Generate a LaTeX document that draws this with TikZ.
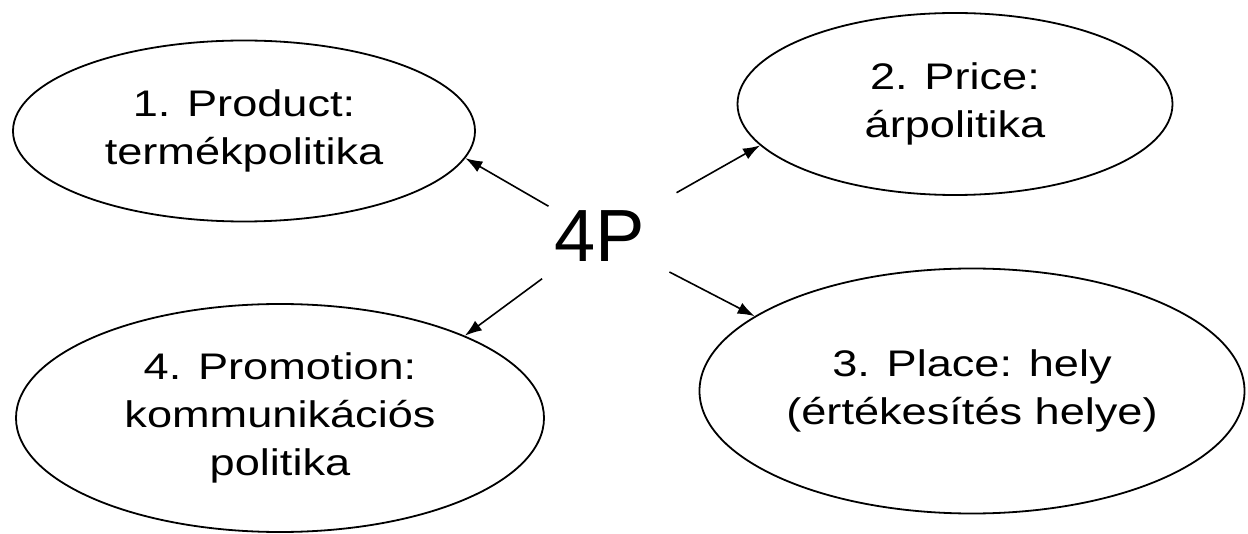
\documentclass[tikz,border=0pt]{standalone}
\usepackage{fontspec}
\setmainfont{Liberation Sans}
\newfontfamily\ovalfont[FakeStretch=1.22]{Liberation Sans}
\usepackage{xcolor}
\usepackage{tikz}
\usetikzlibrary{shapes,arrows.meta,positioning,calc}

\begin{document}
\begin{tikzpicture}[
    x=1pt, y=-1pt,
    oval/.style={ellipse, draw, line width=1.8pt, inner sep=0pt, align=center, text=black, font=\ovalfont\fontsize{37}{48}\selectfont},
    link/.style={-{Latex[length=17pt,width=12pt]}, line width=1.6pt}
]
    \useasboundingbox (0,0) rectangle (1248,534);
    \node[font=\fontsize{74}{74}\selectfont, inner sep=0pt, text=black] (hub) at (600,236) {4P};
    \node[oval, minimum width=462pt, minimum height=181pt] (product) at (244,131) {1. Product:\\termékpolitika};
    \node[oval, minimum width=435pt, minimum height=182pt] (price) at (955,104) {2. Price:\\árpolitika};
    \node[oval, minimum width=545pt, minimum height=245pt] (place) at (972,391) {3. Place: hely\\(értékesítés helye)};
    \node[oval, minimum width=528pt, minimum height=228pt] (promotion) at (280,418) {4. Promotion:\\kommunikációs\\politika};

    \draw[link] ($(product.353)!96pt!(hub)$) -- (product.353);
    \draw[link] ($(price.192)!96pt!(hub)$) -- (price.192);
    \draw[link] ($(place.161)!96pt!(hub)$) -- (place.161);
    \draw[link] ($(promotion.24)!96pt!(hub)$) -- (promotion.24);
\end{tikzpicture}
\end{document}
